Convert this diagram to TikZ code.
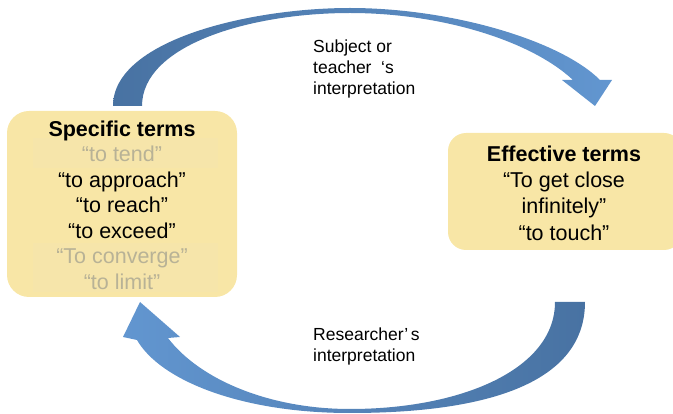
\documentclass[tikz,border=0pt]{standalone}
\usepackage{fontspec}
\setmainfont{Liberation Sans}
\definecolor{boxfill}{RGB}{248,230,166}
\definecolor{bandfill}{RGB}{246,229,170}
\definecolor{fadedtext}{RGB}{184,178,150}
\definecolor{arrowdark}{RGB}{72,114,162}
\definecolor{arrowlight}{RGB}{98,150,208}
\begin{document}
\begin{tikzpicture}[x=1pt,y=-1pt,
  termbox/.style={fill=boxfill, draw=none, inner sep=0pt},
  termtext/.style={align=center, inner sep=0pt, text=black},
  band/.style={fill=bandfill, draw=none},
  note/.style={align=left, inner sep=0pt, anchor=west,
    font=\fontsize{17.5}{21}\selectfont},
  faded/.style={text=fadedtext}]
\useasboundingbox (0,0) rectangle (673,414);
\clip (0,0) rectangle (673,414);

% term boxes
\node[termbox, rounded corners=22pt, minimum width=230pt, minimum height=186pt]
  (spec) at (122,204) {};
\fill[band] (33,138) rectangle (218,168);
\fill[band] (33,243) rectangle (218,292);
\node[termtext, font=\fontsize{21.5}{25.5}\selectfont] (spectxt) at (122,205)
  {\textbf{Specific terms}\\
   \textcolor{fadedtext}{“to tend”}\\
   “to approach”\\
   “to reach”\\
   “to exceed”\\
   \textcolor{fadedtext}{“To converge”}\\
   \textcolor{fadedtext}{“to limit”}};

\node[termbox, rounded corners=18pt, minimum width=234pt, minimum height=117pt]
  (eff) at (565,191.5) {};
\node[termtext, font=\fontsize{21.5}{26.3}\selectfont] (efftxt) at (564,193)
  {\textbf{Effective terms}\\
   “To get close\\
   infinitely”\\
   “to touch”};

% upper curved arrow: specific -> effective
\shade[left color=arrowdark, right color=arrowlight]
  (113,106) .. controls (113,40) and (250,8) .. (350,8)
  .. controls (450,8) and (560,40) .. (600,80)
  -- (612,80) -- (595,106) -- (562,80) -- (573,80)
  .. controls (530,40) and (440,13) .. (350,13)
  .. controls (250,13) and (142,45) .. (142,106) -- cycle;

% lower curved arrow: effective -> specific
\shade[left color=arrowlight, right color=arrowdark]
  (585,302) .. controls (585,390) and (470,413) .. (350,413)
  .. controls (240,413) and (160,380) .. (137,340)
  -- (123,337) -- (140,302) -- (180,337) -- (168,338)
  .. controls (200,380) and (270,409) .. (350,409)
  .. controls (460,409) and (555,370) .. (555,302) -- cycle;

% arrow labels
\node[note] (upper) at (313,69)
  {Subject or\\ teacher\hspace{0.55em}‘s\\ interpretation};
\node[note] (lower) at (313,346)
  {Researcher’\hspace{0.15em}s\\ interpretation};
\end{tikzpicture}
\end{document}
